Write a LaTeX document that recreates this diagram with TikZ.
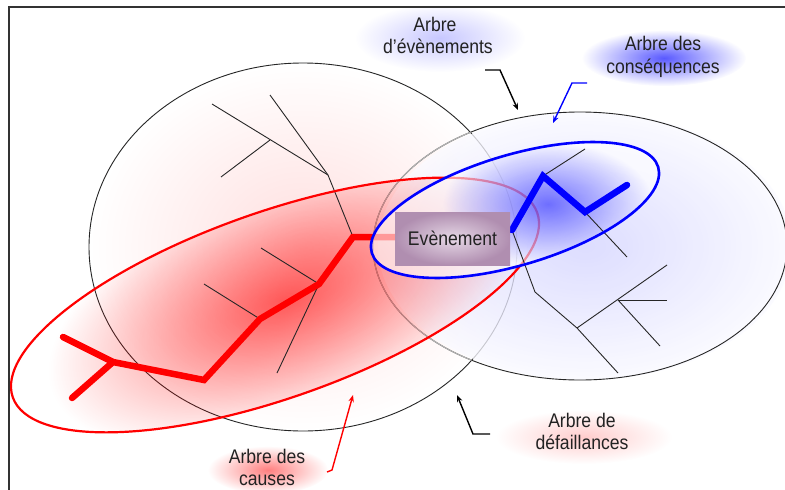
\documentclass[tikz,border=0pt]{standalone}
\usepackage{fontspec}
\setmainfont{Liberation Sans}
\usetikzlibrary{arrows.meta,fadings}
\tikzfading[name=softglow, inner color=transparent!0, outer color=transparent!100]
\definecolor{ink}{HTML}{222222}
\definecolor{evin}{RGB}{230,216,230}
\definecolor{evout}{RGB}{176,142,176}
\newcommand{\tall}[1]{\scalebox{1}[1.12]{#1}}
\begin{document}
\begin{tikzpicture}[x=1pt,y=-1pt,
  treeline/.style={line width=0.9pt, black!85},
  redbranch/.style={red, line width=6.5pt, line cap=round, line join=miter},
  bluebranch/.style={blue, line width=6.5pt, line cap=round, line join=miter},
  pointer/.style={line width=1.4pt, -{Stealth[length=7pt,width=5.5pt]}},
  lbl/.style={font=\fontsize{17.6}{22}\selectfont, text=ink, inner sep=0pt, anchor=base},
  glow/.style={path fading=softglow},
  circleline/.style={black!85, line width=0.9pt},
]
\useasboundingbox (0,0) rectangle (785,490);
\fill[white] (0,0) rectangle (785,490);

% ---- fault tree region (left circle)
\shade[inner color=red!13, outer color=white] (303,247) ellipse (214 and 184);
\draw[circleline] (303,247) ellipse (214 and 184);

% ---- event tree region (right circle)
\shade[inner color=blue!17, outer color=blue!2, fill opacity=0.78] (585,246) ellipse (207 and 134);
\draw[circleline] (580,246) ellipse (207 and 134);
\begin{scope}
  \clip (303,247) ellipse (214 and 184);
  \draw[black!30, line width=1.2pt] (580,246) ellipse (207 and 134);
\end{scope}

% ---- glow of the causes ellipse
\begin{scope}
  \clip[rotate around={19.4:(275,305)}] (275,305) ellipse (278 and 93);
  \begin{scope}[transform canvas={shift={(285,300)}, rotate=22}]
    \fill[red, glow, fill opacity=0.62] (0,0) ellipse (250 and 120);
  \end{scope}
\end{scope}

% ---- left tree
\coordinate (a1) at (212,104);
\coordinate (a2) at (328,175);
\coordinate (a3) at (270,140);
\coordinate (a4) at (221,177);
\coordinate (a5) at (270,95);
\coordinate (root) at (353,237);
\coordinate (b1) at (261,248);
\coordinate (b2) at (319,284);
\coordinate (b3) at (204,284);
\coordinate (b4) at (260,319);
\coordinate (b5) at (277,373);
\coordinate (c1) at (204,380);
\coordinate (c2) at (113,362);
\coordinate (c3) at (63,337);
\coordinate (c4) at (72,398);
\draw[treeline] (a1) -- (a2);
\draw[treeline] (a4) -- (a3);
\draw[treeline] (a5) -- (a2) -- (root);
\draw[treeline] (b1) -- (b2);
\draw[treeline] (b3) -- (b4);
\draw[treeline] (b2) -- (b5);
\draw[redbranch] (c3) -- (c2) -- (c1) -- (b4) -- (b2) -- (root) -- (396,237);
\draw[redbranch] (c2) -- (c4);

% ---- causes ellipse
\draw[red, line width=2.2pt, rotate around={19.4:(275,305)}] (275,305) ellipse (278 and 93);

% ---- consequences ellipse (veil and glow)
\fill[white, fill opacity=0.6, rotate around={16.7:(515,210)}] (515,210) ellipse (149.5 and 55);
\begin{scope}
  \clip[rotate around={16.7:(515,210)}] (515,210) ellipse (149.5 and 55);
  \fill[blue, glow, fill opacity=0.55] (548,204) ellipse (105 and 62);
\end{scope}

% ---- right tree
\coordinate (d0) at (512,230);
\coordinate (d1) at (543,176);
\coordinate (d2) at (585,212);
\coordinate (d3) at (627,185);
\coordinate (d4) at (585,149);
\coordinate (d5) at (627,257);
\coordinate (e1) at (535,292);
\coordinate (e2) at (577,328);
\coordinate (e3) at (618,373);
\coordinate (e4) at (667,265);
\coordinate (e5) at (618,300);
\coordinate (e6) at (667,300);
\coordinate (e7) at (660,346);
\draw[treeline] (d1) -- (d4);
\draw[treeline] (d2) -- (d5);
\draw[treeline] (d0) -- (e1) -- (e2) -- (e3);
\draw[treeline] (e2) -- (e4);
\draw[treeline] (e5) -- (e6);
\draw[treeline] (e5) -- (e7);
\draw[bluebranch] (d0) -- (d1) -- (d2) -- (d3);

\draw[blue, line width=2.6pt, rotate around={16.7:(515,210)}] (515,210) ellipse (149.5 and 55);

% ---- central event
\node[shading=radial, inner color=evin, outer color=evout,
      minimum width=115pt, minimum height=53pt, inner sep=0pt,
      font=\fontsize{17.6}{22}\selectfont, text=ink] (ev) at (452.5,238.5) {\tall{Evènement}};

% ---- label glows
\fill[blue, glow, fill opacity=0.22] (440,38) ellipse (85 and 34);
\fill[blue, glow, fill opacity=0.65] (664,58) ellipse (82 and 28);
\fill[red, glow, fill opacity=0.2] (584,437) ellipse (88 and 27);
\fill[red, glow, fill opacity=0.5] (268,470) ellipse (60 and 24);

% ---- labels
\node[lbl] (evA) at (435,31) {\tall{Arbre}};
\node[lbl] (evB) at (438,53) {\tall{d'évènements}};
\node[lbl] (csA) at (663,50) {\tall{Arbre des}};
\node[lbl] (csB) at (663,73) {\tall{conséquences}};
\node[lbl] (dfA) at (582,427) {\tall{Arbre de}};
\node[lbl] (dfB) at (582,449) {\tall{défaillances}};
\node[lbl] (caA) at (267,463) {\tall{Arbre des}};
\node[lbl] (caB) at (267,485) {\tall{causes}};

% ---- pointers
\coordinate (p1s) at (485,70);
\coordinate (p1b) at (500,70);
\coordinate (p1e) at (518,110);
\draw[pointer] (p1s) -- (p1b) -- (p1e);
\coordinate (p2s) at (587,83);
\coordinate (p2b) at (572,83);
\coordinate (p2e) at (553,123);
\draw[pointer, blue] (p2s) -- (p2b) -- (p2e);
\coordinate (p3s) at (490,434);
\coordinate (p3b) at (473,434);
\coordinate (p3e) at (457,395);
\draw[pointer] (p3s) -- (p3b) -- (p3e);
\coordinate (p4s) at (327,472);
\coordinate (p4b) at (332,470);
\coordinate (p4e) at (353,395);
\draw[pointer, red] (p4s) -- (p4b) -- (p4e);

% ---- frame
\coordinate (f1) at (9,490);
\coordinate (f2) at (9,7);
\coordinate (f3) at (785,7);
\draw[black!80, line width=1.5pt] (f1) -- (f2) -- (f3);
\end{tikzpicture}
\end{document}
